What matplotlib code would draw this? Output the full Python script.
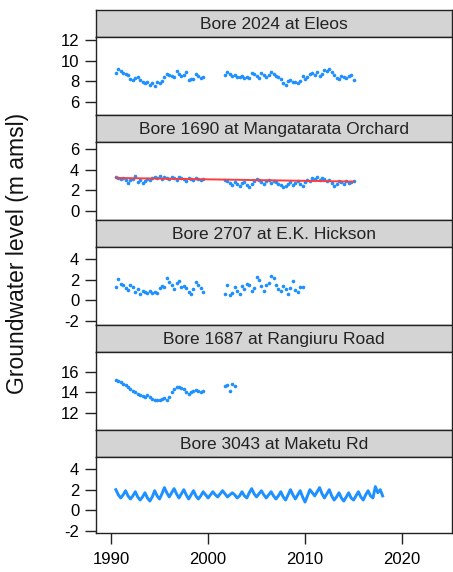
import matplotlib
matplotlib.use("Agg")
import matplotlib.pyplot as plt
import numpy as np

plt.rcParams['font.family'] = ['Liberation Sans', 'DejaVu Sans']
plt.rcParams['axes.unicode_minus'] = False

# Quarterly sampling for the manually read bores
q_early = np.arange(1990.5, 1999.51, 0.25)   # 37 samples
q_late = np.arange(2001.75, 2015.01, 0.25)   # 54 samples

# Bore 2024 at Eleos
eleos_early = [8.8, 9.2, 9.0, 8.8, 8.7, 8.6, 8.2, 8.1, 8.3, 8.4, 8.1, 7.9, 7.8,
               7.9, 7.7, 7.8, 7.6, 7.9, 7.8, 8.0, 8.4, 8.7, 8.6, 8.5, 8.4, 9.0,
               8.7, 8.5, 8.6, 8.9, 8.1, 8.2, 8.2, 8.7, 8.5, 8.3, 8.4]
eleos_late = [8.6, 8.9, 8.7, 8.5, 8.6, 8.4, 8.4, 8.5, 8.3, 8.4, 8.3, 8.8, 8.7,
              8.5, 8.3, 8.8, 8.6, 8.4, 8.6, 8.9, 8.7, 8.5, 8.4, 8.2, 7.8, 7.7,
              8.0, 8.1, 7.9, 7.9, 7.8, 8.0, 8.5, 8.2, 8.4, 8.7, 8.8, 8.6, 8.9,
              8.5, 8.7, 9.1, 9.0, 9.2, 8.9, 8.6, 8.3, 8.2, 8.5, 8.4, 8.3, 8.5,
              8.6, 8.1]

# Bore 1690 at Mangatarata Orchard
mang_early = [3.3, 3.2, 3.1, 3.2, 3.0, 2.7, 3.0, 3.1, 3.4, 2.8, 3.0, 2.7, 2.9,
              3.1, 3.0, 3.2, 3.3, 3.2, 3.4, 3.1, 3.3, 3.2, 3.1, 3.3, 3.2, 3.0,
              3.3, 3.2, 3.1, 2.9, 3.2, 3.1, 3.0, 3.2, 3.1, 3.0, 3.1]
mang_late = [3.0, 2.9, 2.7, 2.5, 2.8, 2.6, 2.4, 2.7, 2.8, 2.5, 2.3, 2.6, 2.9,
             3.1, 3.0, 2.8, 2.6, 2.9, 3.0, 2.7, 2.9, 2.8, 2.6, 2.5, 2.3, 2.4,
             2.6, 2.8, 2.5, 2.7, 2.9, 2.6, 2.4, 2.8, 3.0, 2.9, 3.2, 3.1, 3.3,
             3.0, 3.2, 3.1, 2.9, 3.0, 2.7, 2.4, 2.6, 2.9, 2.8, 2.6, 2.9, 2.7,
             2.8, 2.9]
mang_trend_years = [1990.5, 2015.0]
mang_trend_level = [3.2, 2.85]

# Bore 2707 at E.K. Hickson
hick_early = [1.3, 2.1, 1.6, 1.5, 1.2, 1.0, 1.5, 1.3, 0.8, 1.1, 0.6, 0.9, 0.8,
              0.7, 0.9, 0.7, 0.8, 0.7, 1.2, 1.4, 1.3, 2.2, 1.8, 1.5, 1.1, 1.7,
              1.9, 1.3, 1.4, 1.2, 0.8, 0.6, 1.1, 1.8, 1.5, 1.2, 0.8]
hick_late_years = np.arange(2001.75, 2009.76, 0.25)
hick_late = [0.6, 1.5, 0.5, 0.7, 1.3, 0.9, 0.6, 1.4, 1.1, 1.6, 1.5, 0.9, 1.2,
             2.3, 2.0, 1.4, 0.9, 1.5, 1.7, 2.4, 2.2, 1.5, 1.1, 0.9, 1.4, 1.1,
             0.6, 1.2, 1.9, 1.0, 0.8, 1.3, 1.3]

# Bore 1687 at Rangiuru Road
rang_early = [15.2, 15.1, 15.0, 14.8, 14.7, 14.5, 14.3, 14.1, 14.0, 13.9, 13.8,
              13.7, 13.6, 13.8, 13.6, 13.4, 13.3, 13.3, 13.3, 13.4, 13.5, 13.3,
              13.6, 14.0, 14.3, 14.5, 14.5, 14.4, 14.3, 14.0, 13.9, 14.0, 14.1,
              14.2, 14.1, 14.0, 14.1]
rang_late_years = [2001.75, 2002.0, 2002.25, 2002.5, 2002.75]
rang_late = [14.6, 14.7, 14.1, 14.8, 14.6]

# Bore 3043 at Maketu Rd (continuous record)
maketu_years = np.arange(1990.5, 2018.01, 0.25)
maketu_level = [2.0, 1.5, 1.2, 1.5, 1.9, 1.4, 1.1, 1.4, 1.8, 1.3, 1.0, 1.3,
                1.7, 1.2, 0.9, 1.3, 1.9, 1.4, 1.1, 1.6, 2.2, 1.7, 1.3, 1.7,
                2.1, 1.6, 1.2, 1.6, 2.0, 1.5, 1.1, 1.5, 1.9, 1.4, 1.1, 1.4,
                1.8, 1.5, 1.2, 1.5, 1.8, 1.5, 1.3, 1.6, 1.9, 1.6, 1.3, 1.5,
                1.7, 1.5, 1.2, 1.4, 1.8, 1.4, 1.2, 1.7, 2.1, 1.6, 1.3, 1.6,
                1.9, 1.5, 1.2, 1.5, 1.8, 1.4, 1.1, 1.4, 1.8, 1.3, 1.0, 1.5,
                2.0, 1.5, 1.1, 1.5, 1.9, 1.3, 0.8, 1.4, 2.0, 1.7, 1.4, 1.8,
                2.2, 1.6, 1.2, 1.6, 2.0, 1.4, 1.0, 1.3, 1.7, 1.2, 0.9, 1.3,
                1.7, 1.2, 1.0, 1.4, 1.8, 1.3, 1.0, 1.5, 1.9, 1.4, 1.2, 2.3,
                1.7, 2.0, 1.4]

titles = ["Bore 2024 at Eleos", "Bore 1690 at Mangatarata Orchard",
          "Bore 2707 at E.K. Hickson", "Bore 1687 at Rangiuru Road",
          "Bore 3043 at Maketu Rd"]
ylims = [(4.75, 12.3), (-0.87, 6.68), (-2.39, 5.16), (10.36, 17.93), (-2.19, 5.16)]
yticks = [[6, 8, 10, 12], [0, 2, 4, 6], [-2, 0, 2, 4], [12, 14, 16], [-2, 0, 2, 4]]
xticks = [1990, 2000, 2010, 2020]

W, H = 453, 572
strip_tops = [10, 115, 220, 325, 430]
data_bottoms = [115, 220, 325, 430, 533]
x_left, x_right = 96, 452
strip_h = 27

blue = '#1e90ff'
edge = '#222222'

fig = plt.figure(figsize=(W / 100, H / 100), dpi=100)


def rect(x0, top, x1, bottom):
    return [x0 / W, 1 - bottom / H, (x1 - x0) / W, (bottom - top) / H]


axes = []
for i, title in enumerate(titles):
    top = strip_tops[i]
    # strip header
    sax = fig.add_axes(rect(x_left, top, x_right, top + strip_h))
    sax.set_facecolor('#d4d4d4')
    sax.set_xticks([])
    sax.set_yticks([])
    for sp in sax.spines.values():
        sp.set_color(edge)
        sp.set_linewidth(1.0)
    sax.text(0.5, 0.45, title, ha='center', va='center', fontsize=12.5,
             color='#222222', transform=sax.transAxes)

    ax = fig.add_axes(rect(x_left, top + strip_h, x_right, data_bottoms[i]))
    ax.set_xlim(1988.45, 2025.15)
    ax.set_ylim(*ylims[i])
    ax.set_yticks(yticks[i])
    ax.set_xticks(xticks)
    ax.tick_params(axis='both', direction='out', length=8, width=1.0,
                   color=edge, labelsize=12, pad=4)
    ax.tick_params(axis='x', labelbottom=(i == len(titles) - 1),
                   bottom=(i == len(titles) - 1), pad=6)
    for sp in ax.spines.values():
        sp.set_color(edge)
        sp.set_linewidth(1.0)
    axes.append(ax)

pt = dict(ls='none', marker='o', ms=2.6, mew=0, color=blue)

axes[0].plot(q_early, eleos_early, **pt)
axes[0].plot(q_late, eleos_late, **pt)

axes[1].plot(q_early, mang_early, **pt)
axes[1].plot(q_late, mang_late, **pt)
axes[1].plot(mang_trend_years, mang_trend_level, color='#ff3c3c', lw=1.4)

axes[2].plot(q_early, hick_early, **pt)
axes[2].plot(hick_late_years, hick_late, **pt)

axes[3].plot(q_early, rang_early, **pt)
axes[3].plot(rang_late_years, rang_late, **pt)

axes[4].plot(maketu_years, maketu_level, color=blue, lw=2.1)

fig.text(18 / W, 1 - 253 / H, "Groundwater level (m amsl)", rotation=90,
         ha='center', va='center', fontsize=16.5, color='#111111')

fig.savefig("out.png", dpi=100)
